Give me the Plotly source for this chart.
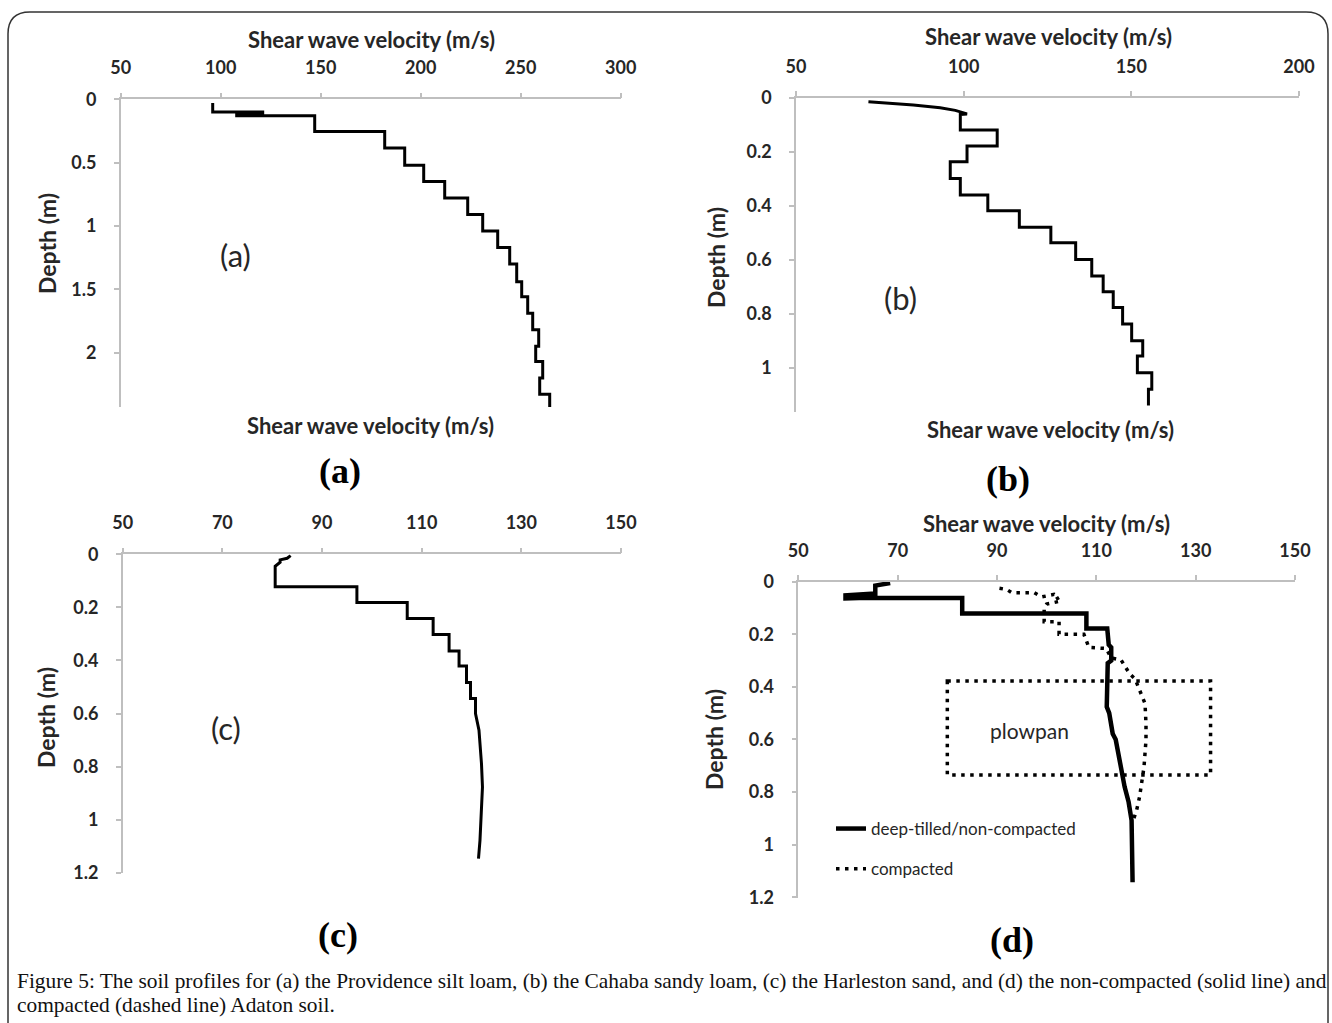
import plotly.graph_objects as go

W, H = 1332, 1023

# ---------------- data ----------------
# (a) Providence silt loam
vs_a = [96, 96, 121, 121, 108, 108, 147, 147, 182, 182, 192, 192, 201.5, 201.5, 212, 212,
        223.5, 223.5, 231, 231, 238.5, 238.5, 244.5, 244.5, 248, 248, 250.5, 250.5,
        253.5, 253.5, 256, 256, 259, 259, 257.5, 257.5, 261, 261, 259.5, 259.5, 264.5, 264.5]
depth_a = [0.03, 0.10, 0.10, 0.11, 0.11, 0.13, 0.13, 0.255, 0.255, 0.385, 0.385, 0.52, 0.52,
           0.65, 0.65, 0.78, 0.78, 0.91, 0.91, 1.04, 1.04, 1.17, 1.17, 1.30, 1.30, 1.44, 1.44,
           1.56, 1.56, 1.69, 1.69, 1.82, 1.82, 1.95, 1.95, 2.07, 2.07, 2.20, 2.20, 2.33, 2.33, 2.44]

# (b) Cahaba sandy loam
vs_b = [71.6, 85, 93, 97.5, 101, 99, 99, 110, 110, 101, 101, 96, 96, 99, 99, 107.2, 107.2,
        116.6, 116.6, 126, 126, 133.4, 133.4, 138.2, 138.2, 141.6, 141.6, 144.6, 144.6,
        147.4, 147.4, 150.1, 150.1, 153.4, 153.4, 151.8, 151.8, 156.1, 156.1, 155.1, 155.1]
depth_b = [0.015, 0.027, 0.037, 0.047, 0.06, 0.062, 0.12, 0.12, 0.179, 0.179, 0.237, 0.237,
           0.299, 0.299, 0.36, 0.36, 0.419, 0.419, 0.48, 0.48, 0.537, 0.537, 0.599, 0.599,
           0.66, 0.66, 0.719, 0.719, 0.777, 0.777, 0.838, 0.838, 0.9, 0.9, 0.957, 0.957,
           1.019, 1.019, 1.08, 1.08, 1.14]

# (c) Harleston sand
vs_c = [83.7, 83, 81.6, 81.6, 80.6, 80.6, 97, 97, 107.1, 107.1, 112.3, 112.3, 115.5, 115.5,
        117.5, 117.5, 119, 119, 119.8, 119.8, 120.8, 120.8, 121.5, 122, 122.2, 122, 121.7, 121.4]
depth_c = [0.005, 0.015, 0.021, 0.03, 0.045, 0.122, 0.122, 0.182, 0.182, 0.242, 0.242, 0.302,
           0.302, 0.364, 0.364, 0.421, 0.421, 0.483, 0.483, 0.543, 0.543, 0.6, 0.663, 0.789,
           0.877, 0.977, 1.078, 1.147]

# (d) Adaton soil: deep-tilled / non-compacted
vs_d_nc = [68.5, 66, 65.5, 65.5, 62, 59.5, 59.5, 65, 65, 60, 59.5, 83, 83, 108, 108, 112.2,
           112.5, 113, 113, 112.3, 112.2, 112.1, 112.6, 113.3, 113.9, 114.5, 115, 115.7,
           116.5, 117.1, 117.3]
depth_d_nc = [0.005, 0.012, 0.015, 0.045, 0.047, 0.052, 0.064, 0.06, 0.05, 0.058, 0.062,
              0.062, 0.121, 0.121, 0.178, 0.178, 0.24, 0.25, 0.3, 0.31, 0.38, 0.476, 0.5,
              0.578, 0.6, 0.66, 0.73, 0.78, 0.838, 0.908, 1.143]
# (d) Adaton soil: compacted
vs_d_c = [90.5, 92, 93, 97.5, 99, 101.5, 102.5, 101.8, 102.5, 100, 99.5, 99.5, 102.5, 102.5,
          107.5, 108.5, 112, 113, 115, 116.7, 117.8, 118.8, 119.8, 120, 120, 119.6, 119.2,
          118.7, 118.1, 117.3]
depth_d_c = [0.025, 0.03, 0.042, 0.042, 0.058, 0.048, 0.06, 0.068, 0.075, 0.085, 0.1, 0.152,
             0.152, 0.2, 0.2, 0.25, 0.254, 0.29, 0.298, 0.35, 0.37, 0.413, 0.463, 0.54, 0.603,
             0.705, 0.755, 0.819, 0.87, 0.914]

# plowpan box (velocity, depth extents)
plowpan_v = [80, 133]
plowpan_d = [0.378, 0.735]

legend_names = ["deep-tilled/non-compacted", "compacted"]
x_title = "Shear wave velocity (m/s)"
y_title = "Depth (m)"
caption1 = ("Figure 5: The soil profiles for (a) the Providence silt loam, (b) the Cahaba sandy loam, "
            "(c) the Harleston sand, and (d) the non-compacted (solid line) and")
caption2 = "compacted (dashed line) Adaton soil."

# ---------------- figure ----------------
def px(x):
    return x / W

def py(y):
    return 1 - y / H

SANS = "Lato"
SERIF = "Liberation Serif"
TXT = "#262626"
AXC = "#bfbfbf"
DOT = "3.5px,5.5px"

fig = go.Figure()

fig.add_trace(go.Scatter(x=vs_a, y=depth_a, mode="lines", line=dict(color="black", width=3),
                         xaxis="x", yaxis="y", showlegend=False))
fig.add_trace(go.Scatter(x=vs_b, y=depth_b, mode="lines", line=dict(color="black", width=3),
                         xaxis="x2", yaxis="y2", showlegend=False))
fig.add_trace(go.Scatter(x=vs_c, y=depth_c, mode="lines", line=dict(color="black", width=3),
                         xaxis="x3", yaxis="y3", showlegend=False))
fig.add_trace(go.Scatter(x=vs_d_nc, y=depth_d_nc, mode="lines", name=legend_names[0],
                         line=dict(color="black", width=4.5), xaxis="x4", yaxis="y4",
                         legendgroup="g1"))
fig.add_trace(go.Scatter(x=vs_d_c, y=depth_d_c, mode="lines", name=legend_names[1],
                         line=dict(color="black", width=3.5, dash=DOT), xaxis="x4", yaxis="y4",
                         legendgroup="g2"))

fig.add_shape(type="rect", xref="x4", yref="y4", x0=plowpan_v[0], x1=plowpan_v[1],
              y0=plowpan_d[0], y1=plowpan_d[1], line=dict(color="black", width=3.5, dash=DOT))

common_x = dict(side="top", showline=True, linecolor=AXC, linewidth=1.5, ticks="outside",
                ticklen=5, tickcolor=AXC, tickwidth=1.5, showgrid=False, zeroline=False,
                automargin=False,
                tickfont=dict(family=SANS, size=18, color=TXT, weight="bold"),
                ticklabelstandoff=11)
common_y = dict(showline=True, linecolor=AXC, linewidth=1.5, ticks="outside",
                ticklen=5, tickcolor=AXC, tickwidth=1.5, showgrid=False, zeroline=False,
                automargin=False,
                tickfont=dict(family=SANS, size=18, color=TXT, weight="bold"),
                ticklabelstandoff=14)

fig.update_layout(
    template="none",
    width=W, height=H, margin=dict(l=0, r=0, t=0, b=0, pad=0), autosize=False,
    paper_bgcolor="white", plot_bgcolor="white",
    xaxis=dict(domain=[px(120.7), px(620.7)], range=[50, 300], tick0=50, dtick=50, anchor="y", **common_x),
    yaxis=dict(domain=[py(407), py(99.3)], range=[2.43, 0], tick0=0, dtick=0.5, anchor="x", **common_y),
    xaxis2=dict(domain=[px(796), px(1299)], range=[50, 200], tick0=50, dtick=50, anchor="y2", **common_x),
    yaxis2=dict(domain=[py(411.7), py(97.7)], range=[1.163, 0], tick0=0, dtick=0.2, anchor="x2", **common_y),
    xaxis3=dict(domain=[px(122.7), px(621)], range=[50, 150], tick0=50, dtick=20, anchor="y3", **common_x),
    yaxis3=dict(domain=[py(873), py(554.3)], range=[1.201, 0], tick0=0, dtick=0.2, anchor="x3", **common_y),
    xaxis4=dict(domain=[px(798.3), px(1295)], range=[50, 150], tick0=50, dtick=20, anchor="y4", **common_x),
    yaxis4=dict(domain=[py(897.5), py(581.7)], range=[1.201, 0], tick0=0, dtick=0.2, anchor="x4", **common_y),
    showlegend=True,
    legend=dict(x=px(831), y=py(811), xanchor="left", yanchor="top", bgcolor="rgba(0,0,0,0)",
                font=dict(family=SANS, size=17, color=TXT), tracegroupgap=15,
                traceorder="grouped", borderwidth=0),
)

ann = []
def text(x, y, s, size, family=SANS, bold=True, angle=0, xanchor="center", color=TXT, xref="paper", yref="paper"):
    ann.append(dict(x=x, y=y, xref=xref, yref=yref, text=s, showarrow=False, textangle=angle,
                    xanchor=xanchor, yanchor="middle",
                    font=dict(family=family, size=size, color=color, weight="bold" if bold else "normal")))

# axis titles
text(px(371), py(40), x_title, 22)
text(px(1048), py(37), x_title, 22)
text(px(1046), py(523), x_title, 22)
text(px(370), py(425), x_title, 22)
text(px(1050), py(429), x_title, 22)
text(px(47), py(244), y_title, 23, angle=-90)
text(px(716), py(258), y_title, 23, angle=-90)
text(px(46), py(718), y_title, 23, angle=-90)
text(px(714), py(740), y_title, 23, angle=-90)

# panel labels inside the plots
text(107.6, 1.229, "(a)", 31, bold=False, xref="x", yref="y")
text(81.3, 0.742, "(b)", 31, bold=False, xref="x2", yref="y2")
text(70.7, 0.655, "(c)", 31, bold=False, xref="x3", yref="y3")
text(96.5, 0.565, "plowpan", 21, bold=False, xref="x4", yref="y4")

# big serif labels below panels
text(px(340), py(471), "(a)", 36, family=SERIF, bold=True, color="black")
text(px(1008), py(479), "(b)", 36, family=SERIF, bold=True, color="black")
text(px(338), py(935), "(c)", 36, family=SERIF, bold=True, color="black")
text(px(1012), py(940), "(d)", 36, family=SERIF, bold=True, color="black")

# caption
text(px(15), py(981), caption1, 21.4, family=SERIF, bold=False, xanchor="left", color="#111")
text(px(15), py(1005), caption2, 21.4, family=SERIF, bold=False, xanchor="left", color="#111")

fig.update_layout(annotations=ann)

# rounded frame
x0, x1, y0, y1 = px(8), px(1328), py(12), py(1040)
rx, ry = 22 / W, 22 / H
path = (f"M {x0},{y1} L {x0},{y0 - ry} Q {x0},{y0} {x0 + rx},{y0} "
        f"L {x1 - rx},{y0} Q {x1},{y0} {x1},{y0 - ry} L {x1},{y1}")
fig.add_shape(type="path", xref="paper", yref="paper", path=path,
              line=dict(color="#333", width=1.5), layer="above")

fig.write_html("out.html", post_script="document.body.style.margin='0px';document.body.style.overflow='hidden';")
